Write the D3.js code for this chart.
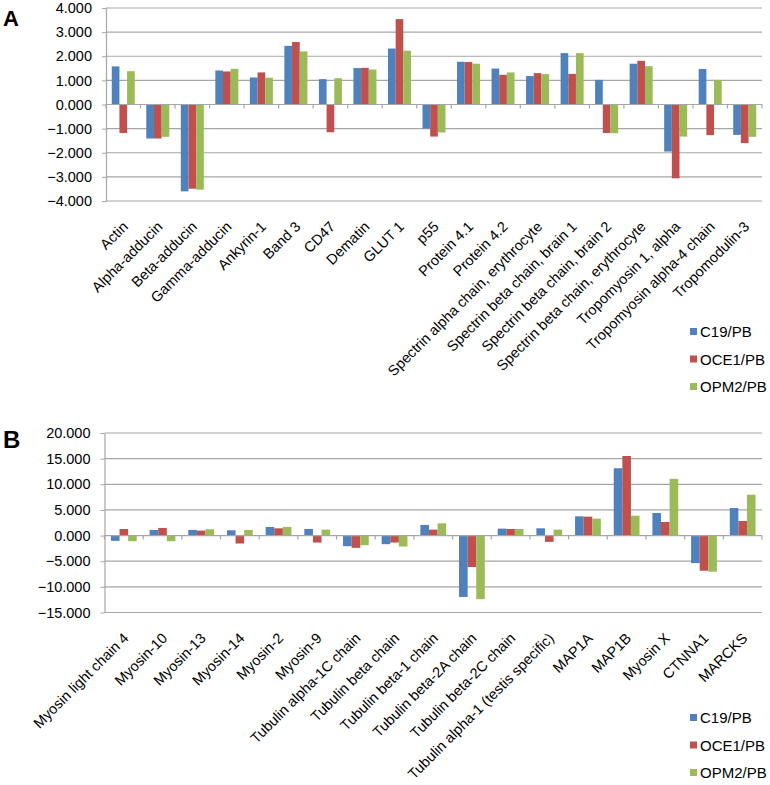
<!DOCTYPE html>
<html>
<head>
<meta charset="utf-8">
<script src="https://cdn.jsdelivr.net/npm/d3@7"></script>
<style>
  html, body { margin: 0; padding: 0; background: #ffffff; }
  svg { display: block; font-family: "Liberation Sans", Arial, sans-serif; }
</style>
</head>
<body>
<svg id="chart" width="770" height="785"></svg>
<script>
// ---------- DATA ----------
const seriesNames = ["C19/PB", "OCE1/PB", "OPM2/PB"];
const seriesColors = ["#4F81BD", "#C0504D", "#9BBB59"];

const categoriesA = ["Actin", "Alpha-adducin", "Beta-adducin", "Gamma-adducin", "Ankyrin-1", "Band 3", "CD47", "Dematin", "GLUT 1", "p55", "Protein 4.1", "Protein 4.2", "Spectrin alpha chain, erythrocyte", "Spectrin beta chain, brain 1", "Spectrin beta chain, brain 2", "Spectrin beta chain, erythrocyte", "Tropomyosin 1, alpha", "Tropomyosin alpha-4 chain", "Tropomodulin-3"];
const c19A  = [1.58, -1.41, -3.60, 1.41, 1.12, 2.43, 1.05, 1.51, 2.32, -1.00, 1.77, 1.49, 1.18, 2.13, 1.02, 1.69, -1.95, 1.47, -1.26];
const oce1A = [-1.18, -1.41, -3.49, 1.37, 1.33, 2.59, -1.15, 1.52, 3.54, -1.33, 1.76, 1.23, 1.30, 1.27, -1.18, 1.81, -3.06, -1.27, -1.60];
const opm2A = [1.38, -1.34, -3.53, 1.48, 1.11, 2.20, 1.09, 1.45, 2.23, -1.16, 1.69, 1.33, 1.26, 2.13, -1.19, 1.59, -1.33, 1.02, -1.34];
const yTicksA = [-4, -3, -2, -1, 0, 1, 2, 3, 4];

const categoriesB = ["Myosin light chain 4", "Myosin-10", "Myosin-13", "Myosin-14", "Myosin-2", "Myosin-9", "Tubulin alpha-1C chain", "Tubulin beta chain", "Tubulin beta-1 chain", "Tubulin beta-2A chain", "Tubulin beta-2C chain", "Tubulin alpha-1 (testis specific)", "MAP1A", "MAP1B", "Myosin X", "CTNNA1", "MARCKS"];
const c19B  = [-1.03, 1.10, 1.10, 1.03, 1.68, 1.29, -2.07, -1.68, 2.07, -11.97, 1.36, 1.42, 3.75, 13.13, 4.40, -5.37, 5.37];
const oce1B = [1.29, 1.49, 0.97, -1.55, 1.42, -1.36, -2.39, -1.36, 1.16, -6.14, 1.29, -1.23, 3.69, 15.52, 2.65, -6.86, 2.85];
const opm2B = [-1.10, -1.10, 1.23, 1.10, 1.68, 1.16, -1.88, -2.13, 2.39, -12.40, 1.29, 1.16, 3.30, 3.88, 11.06, -7.05, 7.96];
const yTicksB = [-15, -10, -5, 0, 5, 10, 15, 20];

// ---------- DRAWING ----------
const svg = d3.select("#chart");
const fmt = d3.format(".3f");

function drawPanel(cfg) {
  const g = svg.append("g");
  const y = d3.scaleLinear().domain(cfg.yDomain).range([cfg.bottom, cfg.top]);
  const x0 = d3.scaleBand().domain(cfg.categories).range([cfg.left, cfg.right])
    .paddingInner(1 / 3).paddingOuter(1 / 6);
  const x1 = d3.scaleBand().domain(seriesNames).range([0, x0.bandwidth()]).padding(0);
  const step = x0.step();

  // gridlines
  g.append("g").selectAll("line").data(cfg.yTicks.filter(t => t !== 0)).join("line")
    .attr("x1", cfg.left).attr("x2", cfg.right)
    .attr("y1", d => y(d)).attr("y2", d => y(d))
    .attr("stroke", "#a6a6a6").attr("stroke-width", 1.2);

  // y axis
  const yAxis = d3.axisLeft(y).tickValues(cfg.yTicks).tickFormat(fmt).tickSize(0).tickPadding(14);
  const ya = g.append("g").attr("transform", `translate(${cfg.left},0)`).call(yAxis);
  ya.select(".domain").attr("stroke", "#a6a6a6").attr("stroke-width", 1.2);
  ya.selectAll("text").attr("font-size", "14.5px").attr("fill", "#000")
    .attr("font-family", "'Liberation Sans', Arial, sans-serif");
  ya.selectAll(".tick").append("line")
    .attr("x1", -4).attr("x2", 0).attr("stroke", "#a6a6a6");

  // bars
  const series = [cfg.s1, cfg.s2, cfg.s3];
  const rows = cfg.categories.map((c, i) => ({ cat: c, vals: series.map((s, k) => ({ name: seriesNames[k], v: s[i], k })) }));
  const cg = g.append("g").selectAll("g").data(rows).join("g")
    .attr("transform", d => `translate(${x0(d.cat)},0)`);
  cg.selectAll("rect").data(d => d.vals).join("rect")
    .attr("x", d => x1(d.name))
    .attr("width", x1.bandwidth())
    .attr("y", d => y(Math.max(0, d.v)))
    .attr("height", d => Math.abs(y(d.v) - y(0)))
    .attr("fill", d => seriesColors[d.k]);

  // zero axis with category ticks
  g.append("line").attr("x1", cfg.left).attr("x2", cfg.right)
    .attr("y1", y(0)).attr("y2", y(0)).attr("stroke", "#a6a6a6").attr("stroke-width", 1.2);
  const bounds = d3.range(cfg.categories.length + 1).map(i => cfg.left + i * step);
  g.append("g").selectAll("line").data(bounds).join("line")
    .attr("x1", d => d).attr("x2", d => d)
    .attr("y1", y(0)).attr("y2", y(0) + 4)
    .attr("stroke", "#a6a6a6").attr("stroke-width", 1.2);

  // category labels
  g.append("g").selectAll("text").data(cfg.categories).join("text")
    .attr("transform", d => `translate(${x0(d) + x0.bandwidth() / 2 + 2},${cfg.bottom + 23}) rotate(-45)`)
    .attr("text-anchor", "end")
    .attr("dy", "0.35em")
    .attr("font-size", "14.5px")
    .attr("fill", "#000")
    .text(d => d);

  // panel letter
  g.append("text").attr("x", 3).attr("y", cfg.letterY)
    .attr("font-size", cfg.letterSize).attr("font-weight", "bold").text(cfg.letter);

  // legend
  const lg = g.append("g").selectAll("g").data(seriesNames).join("g")
    .attr("transform", (d, i) => `translate(690,${cfg.legendTop + i * 27.5})`);
  lg.append("rect").attr("x", 0).attr("y", -4).attr("width", 7).attr("height", 7)
    .attr("fill", (d, i) => seriesColors[i]);
  lg.append("text").attr("x", 10).attr("y", 0).attr("dy", "0.35em")
    .attr("font-size", "15px").attr("fill", "#000").text(d => d);
}

drawPanel({
  letter: "A", letterY: 26, letterSize: "22px",
  categories: categoriesA, s1: c19A, s2: oce1A, s3: opm2A,
  yDomain: [-4, 4], yTicks: yTicksA,
  top: 8, bottom: 201, left: 106, right: 762, legendTop: 332
});

drawPanel({
  letter: "B", letterY: 448, letterSize: "24px",
  categories: categoriesB, s1: c19B, s2: oce1B, s3: opm2B,
  yDomain: [-15, 20], yTicks: yTicksB,
  top: 433, bottom: 612.5, left: 104.5, right: 762, legendTop: 718
});
</script>
</body>
</html>
